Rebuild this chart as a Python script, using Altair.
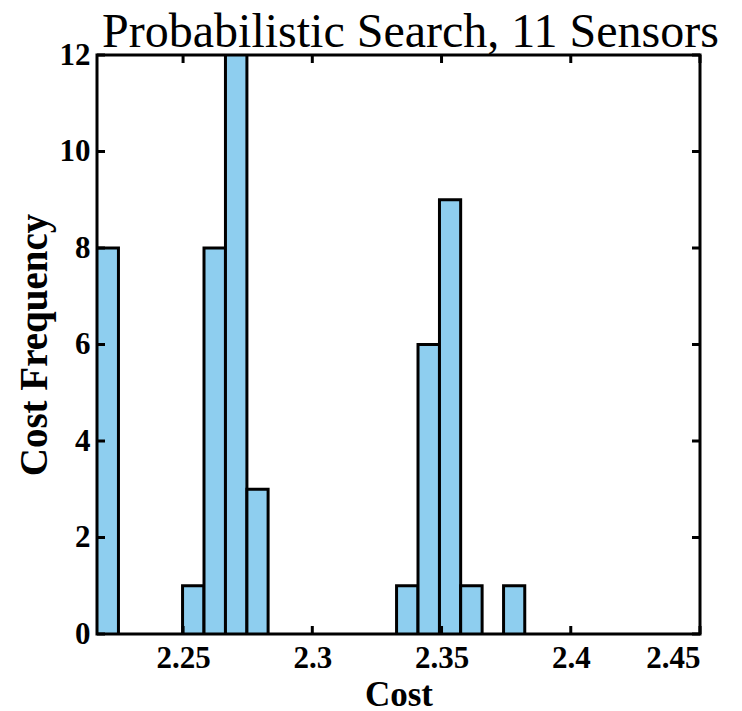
import altair as alt
import pandas as pd

# Histogram bins (left edge, right edge, count)
bin_left = [2.2167, 2.2498, 2.2581, 2.2664, 2.2747, 2.3326, 2.3409, 2.3492, 2.3574, 2.3740]
bin_right = [2.2250, 2.2581, 2.2664, 2.2747, 2.2829, 2.3409, 2.3492, 2.3574, 2.3657, 2.3822]
counts = [8, 1, 8, 12, 3, 1, 6, 9, 1, 1]

x_ticks = [2.25, 2.3, 2.35, 2.4, 2.45]
y_ticks = [0, 2, 4, 6, 8, 10, 12]
x_domain = [2.2167, 2.45]
y_domain = [0, 12]

W, H = 603, 579
FONT = "Liberation Serif"

bars_df = pd.DataFrame({"lo": bin_left, "hi": bin_right, "n": counts})
xt_df = pd.DataFrame({"v": x_ticks})
yt_df = pd.DataFrame({"v": y_ticks})

xscale = alt.Scale(domain=x_domain, nice=False, zero=False)
yscale = alt.Scale(domain=y_domain, nice=False)

bars = alt.Chart(bars_df).mark_bar(
    fill="#8ECEEF", stroke="black", strokeWidth=3, clip=True
).encode(
    x=alt.X("lo:Q", scale=xscale, title="Cost",
            axis=alt.Axis(values=x_ticks, format="~g", ticks=False, domain=False, grid=False,
                          labelFont=FONT, labelFontSize=31, labelFontWeight="bold",
                          labelColor="black", labelPadding=9,
                          titleFont=FONT, titleFontSize=35, titleFontWeight="bold",
                          titleColor="black", titlePadding=4)),
    x2="hi:Q",
    y=alt.Y("n:Q", scale=yscale, title="Cost Frequency",
            axis=alt.Axis(values=y_ticks, ticks=False, domain=False, grid=False,
                          labelFont=FONT, labelFontSize=31, labelFontWeight="bold",
                          labelColor="black", labelPadding=7,
                          titleFont=FONT, titleFontSize=39, titleFontWeight="bold",
                          titleColor="black", titlePadding=5)),
    y2=alt.datum(0),
)

tick_len = 8
xt_bottom = alt.Chart(xt_df).mark_rule(color="black", strokeWidth=3).encode(
    x=alt.X("v:Q", scale=xscale), y=alt.value(H), y2=alt.value(H - tick_len))
xt_top = alt.Chart(xt_df).mark_rule(color="black", strokeWidth=3).encode(
    x=alt.X("v:Q", scale=xscale), y=alt.value(0), y2=alt.value(tick_len))
yt_left = alt.Chart(yt_df).mark_rule(color="black", strokeWidth=3).encode(
    y=alt.Y("v:Q", scale=yscale), x=alt.value(0), x2=alt.value(tick_len))
yt_right = alt.Chart(yt_df).mark_rule(color="black", strokeWidth=3).encode(
    y=alt.Y("v:Q", scale=yscale), x=alt.value(W - tick_len), x2=alt.value(W))

chart = alt.layer(bars, xt_bottom, xt_top, yt_left, yt_right).properties(
    width=W, height=H,
    background="white",
    title=alt.TitleParams("Probabilistic Search, 11 Sensors", font=FONT, fontSize=48,
                          fontWeight="normal", color="black", anchor="middle",
                          dx=12, offset=-18),
    autosize=alt.AutoSizeParams(type="none"),
    padding={"left": 89, "top": 47, "right": 34, "bottom": 85},
).configure_view(stroke="black", strokeWidth=3)

chart.save("out.html", embed_options={"renderer": "svg", "actions": False})
